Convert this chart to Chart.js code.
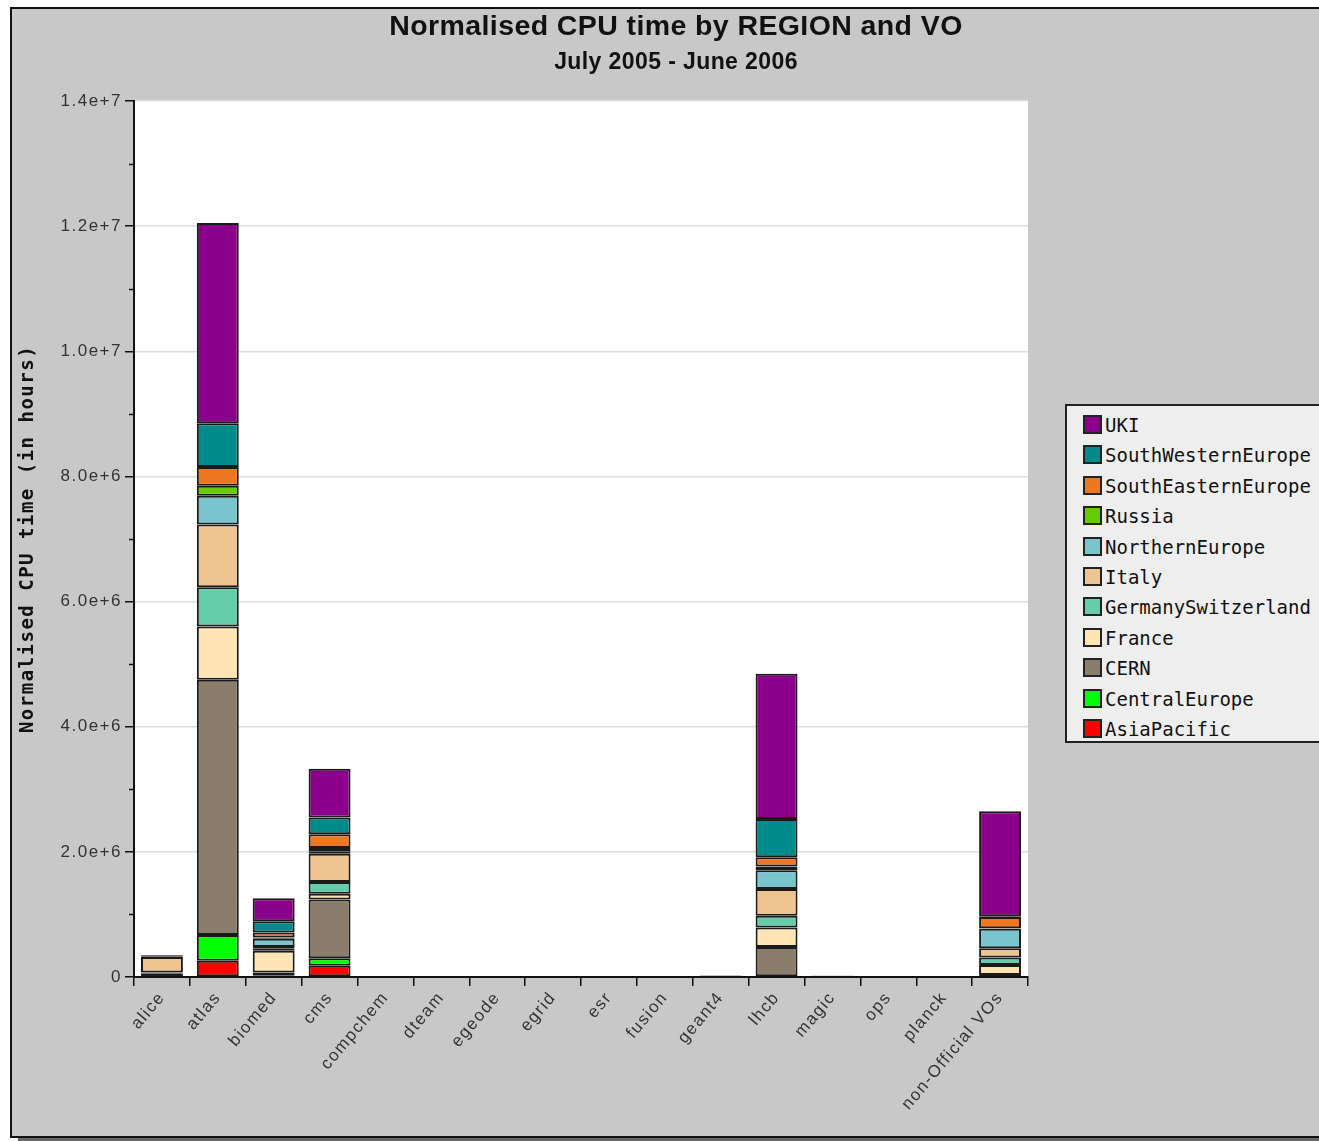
<!DOCTYPE html>
<html>
<head>
<meta charset="utf-8">
<script src="https://cdn.jsdelivr.net/npm/chart.js"></script>
<style>
  html, body { margin: 0; padding: 0; background: #fff; overflow: hidden; }
  body { width: 1319px; height: 1141px; position: relative; }
  #frame {
    position: absolute; left: 10px; top: 7px; width: 1340px; height: 1127px;
    background: #c8c8c8; border: 2px solid #111;
    box-shadow: 8px 4px 0 #666;
  }
  #chartBox { position: absolute; left: 0; top: 0; width: 1319px; height: 1141px; }
  .title {
    position: absolute; left: 326px; width: 700px; text-align: center;
    font-family: "Liberation Sans", Arial, sans-serif; font-weight: bold; color: #111;
    letter-spacing: 0.4px;
  }
  #t1 { top: 9px; font-size: 28.5px; }
  #t2 { top: 48px; font-size: 23px; }
  #legend {
    position: absolute; left: 1065px; top: 404px; width: 280px; height: 339px;
    background: #eeeeee; border: 2px solid #222; box-sizing: border-box;
    padding-top: 9px;
  }
  .item {
    height: 30.4px; display: flex; align-items: flex-start;
    font-family: "DejaVu Sans Mono", monospace; font-size: 19px; color: #111;
    line-height: 20px;
  }
  .sw {
    width: 15px; height: 15px; border: 2px solid #222; margin-left: 16px; margin-right: 3px;
    flex: none;
  }
</style>
</head>
<body>
<div id="frame"></div>
<div id="chartBox"><canvas id="c"></canvas></div>
<div class="title" id="t1">Normalised CPU time by REGION and VO</div>
<div class="title" id="t2">July 2005 - June 2006</div>
<div id="legend"></div>
<script>
// VOs along the x axis
const vos = ['alice', 'atlas', 'biomed', 'cms', 'compchem', 'dteam', 'egeode', 'egrid',
             'esr', 'fusion', 'geant4', 'lhcb', 'magic', 'ops', 'planck', 'non-Official VOs'];

// normalised CPU hours per region (stack order, bottom first)
const asiaPacific   = [null, 0.26e6, 0.01e6, 0.18e6, null, null, null, null, null, null, null, 0.005e6, null, null, null, 0.005e6];
const centralEurope = [null, 0.41e6, 0.01e6, 0.12e6, null, null, null, null, null, null, null, 0.005e6, null, null, null, 0.005e6];
const cern          = [0.06e6, 4.08e6, 0.05e6, 0.94e6, null, null, null, null, null, null, 0.012e6, 0.47e6, 0.01e6, null, null, 0.02e6];
const france        = [0.01e6, 0.85e6, 0.35e6, 0.09e6, null, null, null, null, null, null, null, 0.31e6, null, null, null, 0.16e6];
const germanySwitz  = [null, 0.63e6, 0.03e6, 0.19e6, null, null, null, null, null, null, null, 0.19e6, null, null, null, 0.12e6];
const italy         = [0.25e6, 1.00e6, 0.03e6, 0.45e6, null, null, null, null, null, null, 0.005e6, 0.425e6, 0.01e6, null, null, 0.15e6];
const northernEur   = [0.01e6, 0.46e6, 0.13e6, 0.03e6, null, null, null, null, null, null, null, 0.30e6, null, null, null, 0.31e6];
const russia        = [null, 0.16e6, 0.02e6, 0.06e6, null, null, null, null, null, null, null, 0.06e6, null, null, null, 0.01e6];
const southEastern  = [0.005e6, 0.30e6, 0.08e6, 0.22e6, null, null, null, null, null, null, null, 0.15e6, null, null, null, 0.18e6];
const southWestern  = [0.005e6, 0.70e6, 0.18e6, 0.27e6, null, null, null, null, null, null, null, 0.61e6, null, null, null, 0.01e6];
const uki           = [0.01e6, 3.20e6, 0.37e6, 0.78e6, null, null, null, null, null, null, 0.005e6, 2.32e6, 0.005e6, null, null, 1.68e6];

const regions = ['AsiaPacific', 'CentralEurope', 'CERN', 'France', 'GermanySwitzerland', 'Italy',
                 'NorthernEurope', 'Russia', 'SouthEasternEurope', 'SouthWesternEurope', 'UKI'];
const regionData = [asiaPacific, centralEurope, cern, france, germanySwitz, italy,
                    northernEur, russia, southEastern, southWestern, uki];
const regionColors = ['#ff0000', '#00ff00', '#8b7d6b', '#ffe4b5', '#66cdaa', '#eec591',
                      '#7ac5cd', '#66cc00', '#ee7722', '#008b8b', '#8b008b'];

// y axis: labels every 2e6, small ticks in between
const yMax = 1.4e7;
const yStep = 2e6;
const yMinorStep = 1e6;

function sci(v) {
    if (v === 0) return '0';
    const exp = Math.floor(Math.log10(v));
    return (v / Math.pow(10, exp)).toFixed(1) + 'e+' + exp;
}

const spacing = {
    id: 'spacing',
    beforeLayout(chart) { chart.ctx.letterSpacing = '1.5px'; },
    beforeDraw(chart) {
        const ctx = chart.ctx;
        const a = chart.chartArea;
        ctx.letterSpacing = '1.5px';
        ctx.save();
        ctx.fillStyle = '#ffffff';
        ctx.fillRect(a.left, a.top, a.right - a.left, a.bottom - a.top);
        ctx.restore();
    },
    afterDraw(chart) {
        // minor ticks on the y axis
        const ctx = chart.ctx;
        const y = chart.scales.y;
        ctx.save();
        ctx.strokeStyle = '#111';
        ctx.lineWidth = 1.5;
        for (let v = yMinorStep; v < yMax; v += yStep) {
            const py = Math.round(y.getPixelForValue(v)) + 0.5;
            ctx.beginPath();
            ctx.moveTo(y.right - 5, py);
            ctx.lineTo(y.right, py);
            ctx.stroke();
        }
        ctx.restore();
    }
};

const datasets = regions.map((name, i) => ({
    label: name,
    data: regionData[i],
    backgroundColor: regionColors[i],
    borderColor: '#1a1a1a',
    borderWidth: 2,
    borderSkipped: false,
    barPercentage: 0.75,
    categoryPercentage: 1.0
}));

new Chart(document.getElementById('c'), {
    type: 'bar',
    data: { labels: vos, datasets: datasets },
    options: {
        responsive: true,
        maintainAspectRatio: false,
        animation: false,
        layout: { padding: { left: 0, top: 101, right: 291, bottom: 0 } },
        plugins: {
            legend: { display: false },
            title: { display: false },
            tooltip: { enabled: false }
        },
        scales: {
            x: {
                stacked: true,
                grid: { display: true, offset: true, color: 'transparent', tickColor: '#111', tickLength: 9, lineWidth: 1.5 },
                border: { color: '#111', width: 2 },
                ticks: {
                    autoSkip: false, minRotation: 50, maxRotation: 50, padding: 2,
                    color: '#333', font: { family: 'Liberation Sans', size: 17 }
                },
                afterFit(scale) { scale.height = 164; }
            },
            y: {
                stacked: true,
                min: 0, max: yMax,
                ticks: {
                    stepSize: yStep, padding: 3, color: '#333',
                    font: { family: 'Liberation Sans', size: 17 },
                    callback: v => sci(v)
                },
                grid: {
                    color: c => (c.tick && c.tick.value === 0) ? 'transparent' : '#dddddd',
                    tickColor: '#111', tickLength: 9, lineWidth: 1.5
                },
                border: { color: '#111', width: 2 },
                title: {
                    display: true, text: 'Normalised CPU time (in hours)', color: '#111',
                    font: { family: 'DejaVu Sans Mono', size: 19, weight: 'bold' },
                    padding: { top: 17, bottom: 0 }
                },
                afterFit(scale) { scale.width = 134; }
            }
        }
    },
    plugins: [spacing]
});

// legend, top item is the top of the stack
const legend = document.getElementById('legend');
for (let i = regions.length - 1; i >= 0; i--) {
    const row = document.createElement('div');
    row.className = 'item';
    const sw = document.createElement('span');
    sw.className = 'sw';
    sw.style.background = regionColors[i];
    const txt = document.createElement('span');
    txt.textContent = regions[i];
    row.appendChild(sw);
    row.appendChild(txt);
    legend.appendChild(row);
}
</script>
</body>
</html>
